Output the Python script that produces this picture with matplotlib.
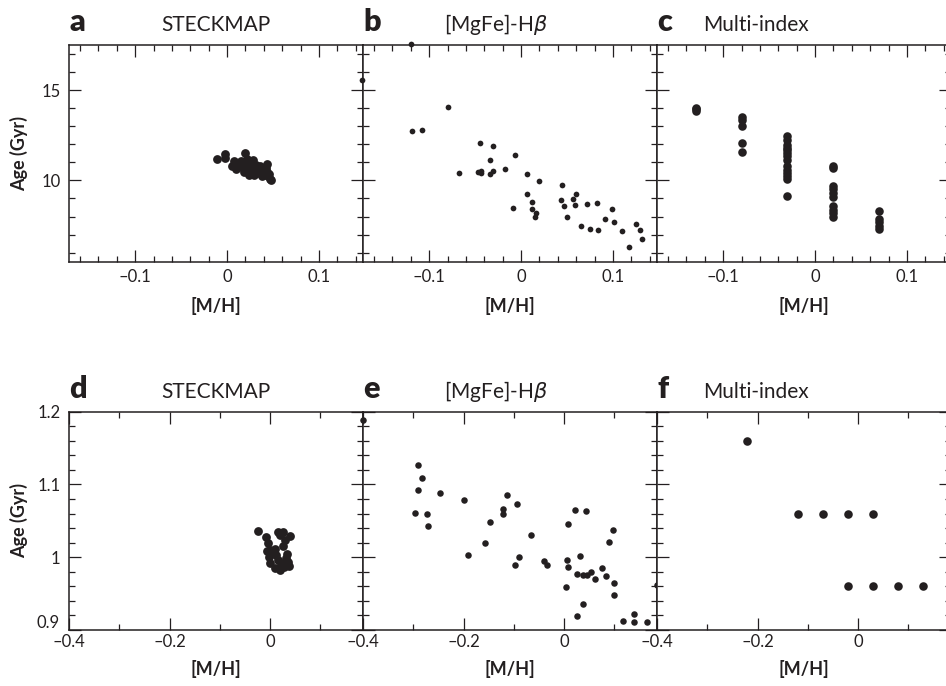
import numpy as np
import matplotlib.pyplot as plt
from matplotlib.ticker import MultipleLocator, FuncFormatter

plt.rcParams['font.family'] = ['Lato', 'DejaVu Sans']
plt.rcParams['mathtext.fontset'] = 'dejavusans'

INK = '#231f20'

# ---- panel a: STECKMAP (top)
a_mh = [-0.011, -0.002, -0.002, 0.005, 0.008, 0.010, 0.013, 0.015, 0.017, 0.019,
        0.020, 0.021, 0.022, 0.023, 0.024, 0.025, 0.026, 0.027, 0.029, 0.030,
        0.031, 0.033, 0.034, 0.036, 0.037, 0.039, 0.040, 0.042, 0.043, 0.044,
        0.045, 0.046, 0.047, 0.048, 0.038, 0.018, 0.028]
a_age = [11.19, 11.46, 11.24, 10.80, 11.05, 10.62, 10.90, 11.10, 10.70, 10.45,
         11.52, 10.95, 11.20, 10.62, 10.30, 10.82, 11.00, 10.52, 10.30, 10.70,
         10.88, 10.45, 10.62, 10.78, 10.38, 10.55, 10.30, 10.68, 10.90, 10.45,
         10.22, 10.35, 10.10, 10.03, 10.22, 10.80, 11.12]

# ---- panel b: [MgFe]-Hbeta (top)
b_mh = [-0.120, -0.173, -0.079, -0.119, -0.108, -0.045, -0.031, -0.034, -0.007,
        -0.067, -0.047, -0.044, -0.044, -0.034, -0.030, -0.017, 0.007, 0.020,
        -0.009, 0.007, 0.012, 0.012, 0.016, 0.015, 0.045, 0.043, 0.047, 0.050,
        0.057, 0.060, 0.059, 0.072, 0.083, 0.065, 0.075, 0.084, 0.091, 0.099,
        0.101, 0.110, 0.118, 0.125, 0.130, 0.132]
b_age = [17.57, 15.59, 14.09, 12.76, 12.78, 12.07, 11.89, 11.11, 11.39,
         10.43, 10.44, 10.50, 10.39, 10.37, 10.54, 10.65, 10.33, 9.96,
         8.46, 9.24, 8.83, 8.44, 8.22, 7.96, 9.72, 8.89, 8.56, 8.00,
         8.96, 9.22, 8.65, 8.69, 8.74, 7.46, 7.33, 7.28, 7.85, 8.41,
         7.67, 7.20, 6.33, 7.57, 7.24, 6.78]

# ---- panel c: Multi-index (top)
c_mh = [-0.13] * 3 + [-0.08] * 5 + [-0.03] * 14 + [0.02] * 10 + [0.07] * 5
c_age = [14.02, 13.93, 13.83,
         13.52, 13.37, 13.00, 12.07, 11.59,
         12.48, 12.26, 11.98, 11.80, 11.67, 11.52, 11.37, 11.15, 10.78, 10.59,
         10.41, 10.22, 10.07, 9.11,
         10.78, 10.69, 9.70, 9.52, 9.33, 9.06, 8.56, 8.37, 8.19, 8.00,
         8.28, 7.85, 7.67, 7.48, 7.30]

# ---- panel d: STECKMAP (bottom)
d_mh = [-0.023, -0.008, 0.015, 0.025, 0.040, -0.005, -0.001, -0.003, -0.001,
        0.009, 0.012, 0.015, 0.019, 0.025, 0.030, 0.032, 0.035, 0.038, 0.028,
        0.022, 0.005, -0.006, 0.020, 0.033, 0.010]
d_age = [1.036, 1.028, 1.035, 1.034, 1.029, 1.019, 1.010, 1.001, 0.992,
         1.012, 1.003, 0.996, 0.982, 1.015, 1.023, 0.999, 0.994, 0.988, 0.987,
         0.992, 1.006, 1.008, 1.030, 1.005, 0.985]

# ---- panel e: [MgFe]-Hbeta (bottom)
e_mh = [-0.400, -0.290, -0.282, -0.290, -0.296, -0.272, -0.271, -0.247, -0.199,
        -0.191, -0.158, -0.147, -0.122, -0.121, -0.114, -0.093, -0.097, -0.090,
        -0.066, -0.039, -0.034, 0.005, 0.008, 0.007, 0.021, 0.044, 0.031, 0.004,
        0.025, 0.038, 0.045, 0.054, 0.062, 0.038, 0.025, 0.076, 0.084, 0.090,
        0.097, 0.100, 0.100, 0.117, 0.139, 0.139, 0.166, 0.185]
e_age = [1.188, 1.127, 1.109, 1.092, 1.061, 1.059, 1.043, 1.088, 1.078,
         1.003, 1.020, 1.049, 1.066, 1.059, 1.086, 1.073, 0.990, 1.000,
         1.031, 0.995, 0.989, 0.996, 0.986, 1.045, 1.065, 1.064, 1.002, 0.959,
         0.977, 0.976, 0.976, 0.980, 0.970, 0.936, 0.919, 0.985, 0.974, 1.021,
         1.038, 0.965, 0.948, 0.913, 0.922, 0.911, 0.911, 0.962]

# ---- panel f: Multi-index (bottom)
f_mh = [-0.22, -0.12, -0.07, -0.02, 0.03, -0.02, 0.03, 0.08, 0.13]
f_age = [1.16, 1.06, 1.06, 1.06, 1.06, 0.96, 0.96, 0.96, 0.96]

letters = ['a', 'b', 'c', 'd', 'e', 'f']
titles = ['STECKMAP', '[MgFe]-H$\\beta$', 'Multi-index'] * 2
title_x = [216, 496, 756]   # pixel centre of each title

W, H = 946, 686
fig = plt.figure(figsize=(W / 100, H / 100), dpi=100)


def add_ax(left, top, width, height):
    return fig.add_axes([left / W, 1 - (top + height) / H, width / W, height / H])


def fmt(v, _):
    s = '%g' % round(v, 3)
    return s.replace('-', '\u2013')


def fmt_low(v, _):
    # lowest label of the bottom row is drawn separately, a bit higher
    if abs(v - 0.9) < 1e-6:
        return ''
    return fmt(v, _)


lefts = [69, 363, 657]
rows = [(44.7, 217.3), (411.7, 218.3)]
data = [(a_mh, a_age, 40), (b_mh, b_age, 17), (c_mh, c_age, 38),
        (d_mh, d_age, 40), (e_mh, e_age, 22), (f_mh, f_age, 38)]

for i, (mh, age, size) in enumerate(data):
    r, c = divmod(i, 3)
    top, hgt = rows[r]
    ax = add_ax(lefts[c], top, 294, hgt)
    ax.scatter(mh, age, s=size, color=INK, linewidths=0, clip_on=False, zorder=3)
    if r == 0:
        ax.set_xlim(-0.172, 0.148)
        ax.set_ylim(5.48, 17.52)
        ax.xaxis.set_major_locator(MultipleLocator(0.1))
        ax.xaxis.set_minor_locator(MultipleLocator(0.02))
        ax.yaxis.set_major_locator(MultipleLocator(5))
        ax.yaxis.set_minor_locator(MultipleLocator(1))
        ax.yaxis.set_major_formatter(FuncFormatter(fmt))
        xpad = 5
        lpad = 9
    else:
        ax.set_xlim(-0.4, 0.185)
        ax.set_ylim(0.9, 1.2)
        ax.xaxis.set_major_locator(MultipleLocator(0.2))
        ax.xaxis.set_minor_locator(MultipleLocator(0.1))
        ax.yaxis.set_major_locator(MultipleLocator(0.1))
        ax.yaxis.set_minor_locator(MultipleLocator(0.02))
        ax.yaxis.set_major_formatter(FuncFormatter(fmt_low))
        xpad = 3
        lpad = 7
        if c == 0:
            ax.annotate('0.9', xy=(0, 0.9), xycoords=('axes fraction', 'data'),
                        xytext=(-6.5, -1), textcoords='offset points',
                        ha='right', va='bottom', fontsize=12, color=INK)
    ax.xaxis.set_major_formatter(FuncFormatter(fmt))
    ax.tick_params(which='both', direction='in', top=True, right=True,
                   colors=INK, labelsize=12, width=0.9)
    ax.tick_params(which='major', length=8.5)
    ax.tick_params(which='minor', length=4.5)
    ax.tick_params(axis='x', pad=xpad)
    ax.tick_params(axis='y', pad=6, labelleft=(c == 0))
    for sp in ax.spines.values():
        sp.set_linewidth(1.1)
        sp.set_color(INK)
    ax.set_xlabel('[M/H]', fontsize=13, fontweight='bold', color=INK, labelpad=lpad)

    # panel letter and title
    ytxt = 1 - (top - 14) / H
    fig.text(lefts[c] / W, ytxt, letters[i], fontsize=22, fontweight='heavy',
             color=INK, ha='left', va='baseline')
    fig.text(title_x[c] / W, ytxt, titles[i], fontsize=15, color=INK,
             ha='center', va='baseline')
    if c == 0:
        fig.text(19 / W, 1 - (top + hgt / 2) / H, 'Age (Gyr)', rotation=90,
                 fontsize=13, fontweight='bold', color=INK,
                 ha='center', va='center')

fig.savefig('out.png', dpi=100)
